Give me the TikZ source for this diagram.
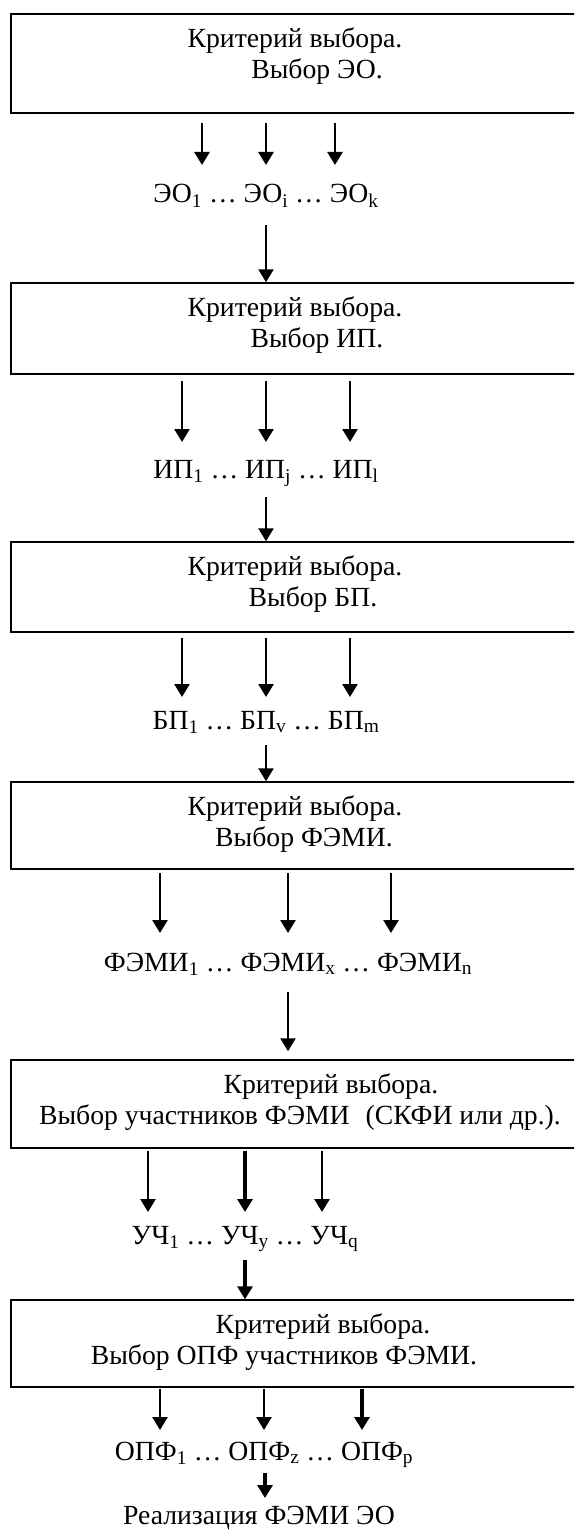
\documentclass[tikz,border=0pt]{standalone}
\usepackage{fontspec}
\setmainfont{Liberation Serif}
\usetikzlibrary{arrows.meta,calc}

\tikzset{
  frame/.style={draw, line width=1.5pt, minimum width=568pt, inner sep=0pt},
  crit/.style={align=center, inner sep=0pt, anchor=north, font=\fontsize{27.7}{31.5}\selectfont},
  list/.style={inner sep=0pt, anchor=base, font=\fontsize{27.7}{31.5}\selectfont},
  arr/.style={line width=2.6pt, -{Triangle[width=15pt,length=13pt]}},
  fat/.style={arr, line width=4pt},
}

\begin{document}
\begin{tikzpicture}[x=1pt,y=1pt]
    \useasboundingbox (0,0) rectangle (574,-1530);
    \clip (0,0) rectangle (574,-1530);

    % Stage 1: choice of EO
    \node[frame, minimum height=99pt] (box1) at (295,-63.5) {};
    \node[crit] (crit1) at ($(box1.north)+(0,-14)$) {Критерий выбора.\\\hspace*{44pt}Выбор ЭО.};
    \node[list] (list1) at (266,-203) {ЭО\textsubscript{1} … ЭО\textsubscript{i} … ЭО\textsubscript{k}};
    \draw[arr] ($(box1.south -| list1.base)+(-64,-9)$) -- ($(list1.base)+(-64,38)$);
    \draw[arr] ($(box1.south -| list1.base)+(0,-9)$) -- ($(list1.base)+(0,38)$);
    \draw[arr] ($(box1.south -| list1.base)+(69,-9)$) -- ($(list1.base)+(69,38)$);

    % Stage 2: choice of IP
    \node[frame, minimum height=91pt] (box2) at (295,-328.5) {};
    \draw[arr] ($(list1.base)+(0,-22)$) -- (box2.north -| list1.base);
    \node[crit] (crit2) at ($(box2.north)+(0,-14)$) {Критерий выбора.\\\hspace*{44pt}Выбор ИП.};
    \node[list] (list2) at (266,-478) {ИП\textsubscript{1} … ИП\textsubscript{j} … ИП\textsubscript{l}};
    \draw[arr] ($(box2.south -| list2.base)+(-84,-6)$) -- ($(list2.base)+(-84,36)$);
    \draw[arr] ($(box2.south -| list2.base)+(0,-6)$) -- ($(list2.base)+(0,36)$);
    \draw[arr] ($(box2.south -| list2.base)+(84,-6)$) -- ($(list2.base)+(84,36)$);

    % Stage 3: choice of BP
    \node[frame, minimum height=90pt] (box3) at (295,-587) {};
    \draw[arr] ($(list2.base)+(0,-19)$) -- (box3.north -| list2.base);
    \node[crit] (crit3) at ($(box3.north)+(0,-14)$) {Критерий выбора.\\\hspace*{36pt}Выбор БП.};
    \node[list] (list3) at (266,-729) {БП\textsubscript{1} … БП\textsubscript{v} … БП\textsubscript{m}};
    \draw[arr] ($(box3.south -| list3.base)+(-84,-5)$) -- ($(list3.base)+(-84,32)$);
    \draw[arr] ($(box3.south -| list3.base)+(0,-5)$) -- ($(list3.base)+(0,32)$);
    \draw[arr] ($(box3.south -| list3.base)+(84,-5)$) -- ($(list3.base)+(84,32)$);

    % Stage 4: choice of FEMI
    \node[frame, minimum height=87pt] (box4) at (295,-825.5) {};
    \draw[arr] ($(list3.base)+(0,-16)$) -- (box4.north -| list3.base);
    \node[crit] (crit4) at ($(box4.north)+(0,-14)$) {Критерий выбора.\\\hspace*{18pt}Выбор ФЭМИ.};
    \node[list] (list4) at (288,-971) {ФЭМИ\textsubscript{1} … ФЭМИ\textsubscript{x} … ФЭМИ\textsubscript{n}};
    \draw[arr] ($(box4.south -| list4.base)+(-128,-3)$) -- ($(list4.base)+(-128,38)$);
    \draw[arr] ($(box4.south -| list4.base)+(0,-3)$) -- ($(list4.base)+(0,38)$);
    \draw[arr] ($(box4.south -| list4.base)+(103,-3)$) -- ($(list4.base)+(103,38)$);

    % Stage 5: choice of participants
    \node[frame, minimum height=88pt] (box5) at (295,-1104) {};
    \draw[arr] ($(list4.base)+(0,-21)$) -- ($(box5.north -| list4.base)+(0,8)$);
    \node[crit] (crit5) at ($(box5.north)+(0,-14)$) {\hspace*{72pt}Критерий выбора.\\\hspace*{10pt}Выбор участников ФЭМИ\hspace{16pt}(СКФИ или др.).};
    \node[list] (list5) at (245,-1244) {УЧ\textsubscript{1} … УЧ\textsubscript{y} … УЧ\textsubscript{q}};
    \draw[arr] ($(box5.south -| list5.base)+(-97,-2)$) -- ($(list5.base)+(-97,32)$);
    \draw[fat] ($(box5.south -| list5.base)+(0,-2)$) -- ($(list5.base)+(0,32)$);
    \draw[arr] ($(box5.south -| list5.base)+(77,-2)$) -- ($(list5.base)+(77,32)$);

    % Stage 6: choice of OPF
    \node[frame, minimum height=87pt] (box6) at (295,-1343.5) {};
    \draw[fat] ($(list5.base)+(0,-16)$) -- (box6.north -| list5.base);
    \node[crit] (crit6) at ($(box6.north)+(0,-14)$) {\hspace*{56pt}Критерий выбора.\\Выбор ОПФ участников ФЭМИ.\hspace*{22pt}};
    \node[list] (list6) at (264,-1460) {ОПФ\textsubscript{1} … ОПФ\textsubscript{z} … ОПФ\textsubscript{p}};
    \draw[arr] ($(box6.south -| list6.base)+(-104,-1)$) -- ($(list6.base)+(-104,30)$);
    \draw[arr] ($(box6.south -| list6.base)+(0,-1)$) -- ($(list6.base)+(0,30)$);
    \draw[fat] ($(box6.south -| list6.base)+(98,-1)$) -- ($(list6.base)+(98,30)$);

    % Result
    \node[list] (goal) at (259,-1524) {Реализация ФЭМИ ЭО};
    \draw[fat] ($(list6.base)+(1,-13)$) -- ($(list6.base)+(1,-38)$);
\end{tikzpicture}
\end{document}
